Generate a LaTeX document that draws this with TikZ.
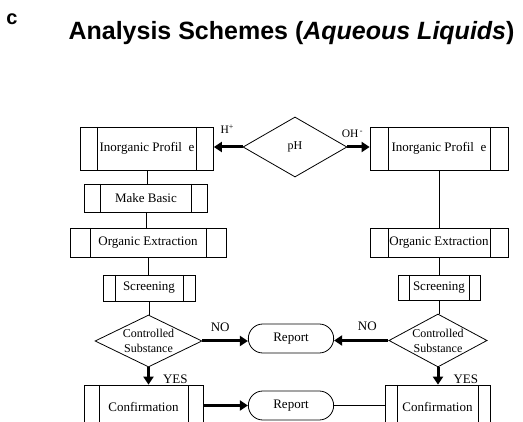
\documentclass[tikz,border=0pt]{standalone}
\usepackage{fontspec}
\setmainfont{Liberation Serif}
\newfontfamily\titlefont{Liberation Sans}
\usetikzlibrary{shapes.geometric,shapes.misc,arrows.meta}

\tikzset{
  subproc/.style={draw, rectangle, inner sep=0pt, line width=0.8pt,
    font=\fontsize{13}{15}\selectfont,
    path picture={
      \draw[line width=0.8pt] ([xshift=#1]path picture bounding box.north west) -- ([xshift=#1]path picture bounding box.south west);
      \draw[line width=0.8pt] ([xshift=-#1]path picture bounding box.north east) -- ([xshift=-#1]path picture bounding box.south east);}},
  subproc/.default=16pt,
  decide/.style={draw, diamond, aspect=2, inner sep=0pt, line width=0.8pt,
    align=center, font=\fontsize{12}{15}\selectfont},
  report/.style={draw, rounded rectangle, line width=0.8pt, minimum width=92pt,
    minimum height=29pt, font=\fontsize{13}{15}\selectfont},
  link/.style={line width=0.8pt},
  bigarrow/.style={line width=3pt, -{Triangle[length=8pt,width=10pt]}},
  lbl/.style={font=\fontsize{13}{15}\selectfont, inner sep=0pt},
}

\begin{document}
\begin{tikzpicture}[x=1pt,y=-1pt]
   \path[use as bounding box, clip] (0,0) rectangle (523,422);

   % headings
   \node (tag) at (12,19) {\titlefont\bfseries\fontsize{20}{23}\selectfont c};
   \node (title) at (291.5,33) {\titlefont\bfseries\fontsize{25}{28}\selectfont Analysis Schemes (\textit{Aqueous Liquids})};

   % top row
   \node[subproc=17pt, minimum width=133pt, minimum height=43pt] (inorgL) at (147,148.5) {Inorganic Profil\hspace{0.5em}e};
   \node[decide, minimum width=104pt, minimum height=60pt] (ph) at (295,147) {pH};
   \node[subproc=18pt, minimum width=138pt, minimum height=43pt] (inorgR) at (439,148.5) {Inorganic Profil\hspace{0.5em}e};

   % left column
   \node[subproc=16pt, minimum width=123pt, minimum height=28pt] (basic) at (146,198) {Make Basic};
   \node[subproc=20pt, minimum width=156pt, minimum height=29pt] (orgL) at (148,242.5) {Organic Extraction};
   \node[subproc=12pt, minimum width=92pt, minimum height=26pt] (screenL) at (149,288) {Screening};
   \node[decide, minimum width=107pt, minimum height=52pt] (ctrlL) at (148.5,341) {Controlled\\Substance};
   \node[subproc=15pt, minimum width=119pt, minimum height=43pt] (confL) at (143.5,406.5) {Confirmation};

   % right column
   \node[subproc=18pt, minimum width=138pt, minimum height=29pt] (orgR) at (439,242.5) {Organic Extraction};
   \node[subproc=11pt, minimum width=82pt, minimum height=25pt] (screenR) at (439,287.5) {Screening};
   \node[decide, minimum width=98pt, minimum height=53pt] (ctrlR) at (438,340.5) {Controlled\\Substance};
   \node[subproc=12pt, minimum width=105pt, minimum height=43pt] (confR) at (437.5,406.5) {Confirmation};

   % middle
   \node[report] (repA) at (291,338.5) {Report};
   \node[report] (repB) at (291,405.5) {Report};

   % thin links
   \draw[link] (inorgL.south) -- (inorgL.south |- basic.north);
   \draw[link] (basic.south) -- (basic.south |- orgL.north);
   \draw[link] (orgL.south) -- (orgL.south |- screenL.north);
   \draw[link] (screenL.south) -- (screenL.south |- ctrlL.north);
   \draw[link] (inorgR.south) -- (inorgR.south |- orgR.north);
   \draw[link] (orgR.south) -- (orgR.south |- screenR.north);
   \draw[link] (screenR.south) -- (screenR.south |- ctrlR.north);
   \draw[link] (repB.east) -- (repB.east -| confR.west);

   % thick arrows
   \draw[bigarrow] (ph.west) -- node[lbl, above=12pt, xshift=-1pt] {\fontsize{11.5}{13}\selectfont H\textsuperscript{+}} (ph.west -| inorgL.east);
   \draw[bigarrow] (ph.east) -- node[lbl, above=8pt, xshift=-6pt] {\fontsize{11.5}{13}\selectfont OH\textsuperscript{\,-}} (ph.east -| inorgR.west);
   \draw[bigarrow] (ctrlL.east) -- node[lbl, above=8pt, xshift=-5pt] {NO} (ctrlL.east -| repA.west);
   \draw[bigarrow] (ctrlR.west) -- node[lbl, above=8pt, xshift=6pt] {NO} (ctrlR.west -| repA.east);
   \draw[bigarrow] (ctrlL.south) -- node[lbl, right=13pt, yshift=-3pt] {YES} (ctrlL.south |- confL.north);
   \draw[bigarrow] (ctrlR.south) -- node[lbl, right=14pt, yshift=-3pt] {YES} (ctrlR.south |- confR.north);
   \draw[bigarrow] (confL.east |- repB.west) -- (repB.west);

\end{tikzpicture}
\end{document}
